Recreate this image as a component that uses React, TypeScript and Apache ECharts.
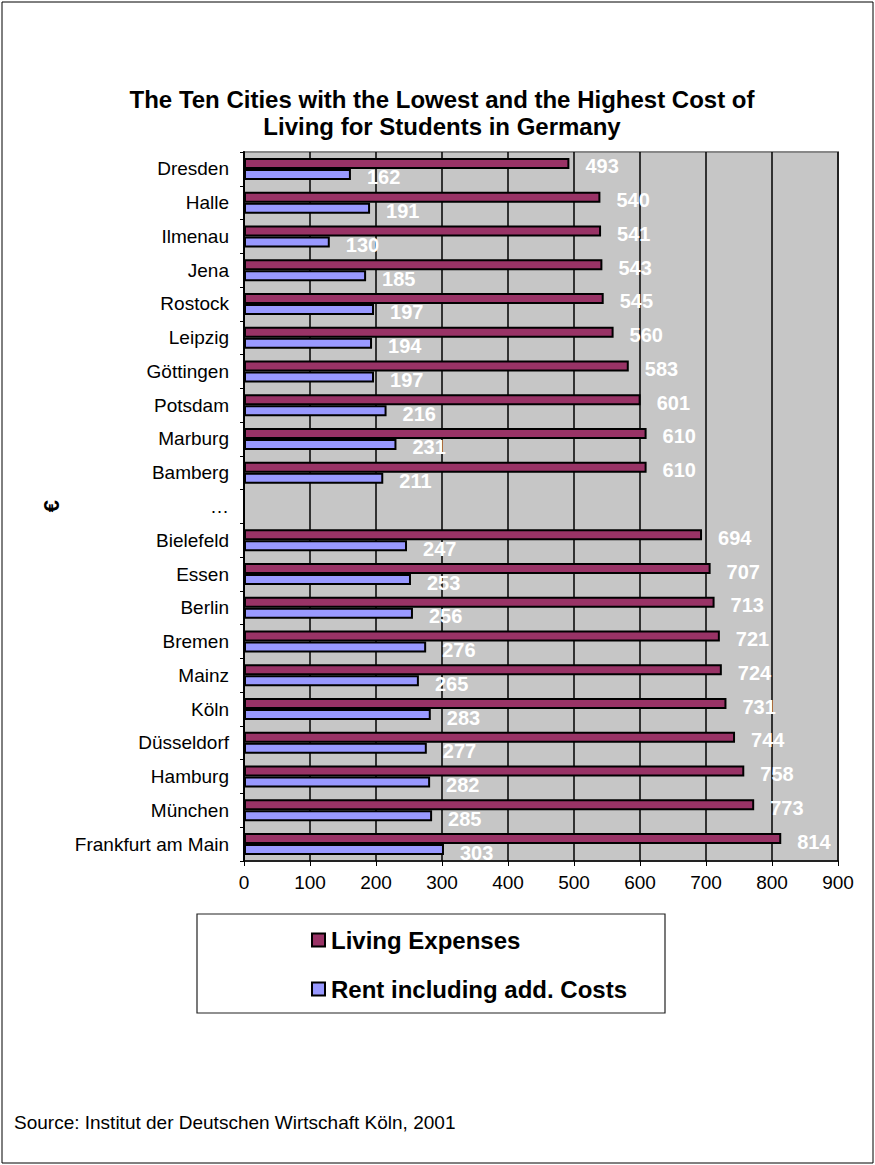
import React, { useEffect, useRef } from "react";
import * as echarts from "echarts";

const cities = [
  "Dresden", "Halle", "Ilmenau", "Jena", "Rostock", "Leipzig", "Göttingen", "Potsdam", "Marburg", "Bamberg",
  "…",
  "Bielefeld", "Essen", "Berlin", "Bremen", "Mainz", "Köln", "Düsseldorf", "Hamburg", "München", "Frankfurt am Main",
];
const livingExpenses = [493, 540, 541, 543, 545, 560, 583, 601, 610, 610, null, 694, 707, 713, 721, 724, 731, 744, 758, 773, 814];
const rentCosts = [162, 191, 130, 185, 197, 194, 197, 216, 231, 211, null, 247, 253, 256, 276, 265, 283, 277, 282, 285, 303];
const xTicks = [0, 100, 200, 300, 400, 500, 600, 700, 800, 900];

const FONT = "'Liberation Sans', Arial, Helvetica, sans-serif";

export default function App() {
  const ref = useRef<HTMLDivElement>(null);
  useEffect(() => {
    if (!ref.current) return;
    const chart = echarts.init(ref.current, undefined, { renderer: "svg" });
    const labelStyle = {
      show: true,
      position: "right" as const,
      distance: 16,
      offset: [0, 3],
      color: "#ffffff",
      fontFamily: FONT,
      fontWeight: "bold" as const,
      fontSize: 20,
    };
    chart.setOption({
      animation: false,
      backgroundColor: "#ffffff",
      grid: {
        left: 244,
        right: 37,
        top: 152,
        bottom: 304,
        show: true,
        backgroundColor: "#c6c6c6",
        borderColor: "#888888",
        borderWidth: 2,
      },
      legend: {
        orient: "vertical",
        left: 306,
        top: 923,
        itemWidth: 13,
        itemHeight: 13,
        itemGap: 25,
        icon: "rect",
        data: ["Living Expenses", "Rent including add. Costs"],
        textStyle: { fontFamily: FONT, fontWeight: "bold", fontSize: 24, lineHeight: 24, color: "#000", padding: [0, 0, 0, 1] },
      },
      xAxis: {
        type: "value",
        min: xTicks[0],
        max: xTicks[xTicks.length - 1],
        interval: 100,
        axisLine: { show: true, lineStyle: { color: "#000", width: 1.5 } },
        axisTick: { show: true, length: 5, lineStyle: { color: "#000" } },
        axisLabel: { fontFamily: FONT, fontSize: 19, color: "#000", margin: 12 },
        splitLine: { show: true, lineStyle: { color: "#000", width: 1.5 } },
      },
      yAxis: {
        type: "category",
        data: cities,
        inverse: true,
        axisLine: { show: true, lineStyle: { color: "#000", width: 2 } },
        axisTick: { show: true, length: 4, lineStyle: { color: "#000" } },
        axisLabel: { fontFamily: FONT, fontSize: 19, color: "#000", margin: 15 },
        splitLine: { show: false },
      },
      series: [
        {
          name: "Living Expenses",
          type: "bar",
          data: livingExpenses,
          barWidth: 11,
          barGap: "0%",
          itemStyle: { color: "#993366", borderColor: "#000", borderWidth: 2 },
          label: labelStyle,
        },
        {
          name: "Rent including add. Costs",
          type: "bar",
          data: rentCosts,
          barWidth: 11,
          barGap: "0%",
          itemStyle: { color: "#9999ff", borderColor: "#000", borderWidth: 2 },
          label: labelStyle,
        },
      ],
      graphic: [
        {
          type: "rect",
          shape: { x: 2, y: 2, width: 871, height: 1161 },
          style: { fill: "none", stroke: "#000", lineWidth: 1 },
          silent: true,
          z: -1,
        },
        {
          type: "rect",
          shape: { x: 197, y: 914, width: 468, height: 99 },
          style: { fill: "none", stroke: "#222", lineWidth: 1.2 },
          silent: true,
        },
        {
          type: "text",
          x: 442,
          y: 113,
          style: {
            text: "The Ten Cities with the Lowest and the Highest Cost of\nLiving for Students in Germany",
            fontFamily: FONT,
            fontWeight: "bold",
            fontSize: 24,
            lineHeight: 27,
            fill: "#000",
            align: "center",
            verticalAlign: "middle",
          },
        },
        {
          type: "text",
          x: 51,
          y: 506,
          rotation: Math.PI / 2,
          style: { text: "€", fontFamily: FONT, fontWeight: "bold", fontSize: 22, fill: "#000", align: "center", verticalAlign: "middle" },
        },
        {
          type: "text",
          x: 14,
          y: 1122,
          style: {
            text: "Source: Institut der Deutschen Wirtschaft Köln, 2001",
            fontFamily: FONT,
            fontSize: 19,
            fill: "#000",
            align: "left",
            verticalAlign: "middle",
          },
        },
      ],
    });
    return () => chart.dispose();
  }, []);
  return <div ref={ref} style={{ position: "absolute", left: 0, top: 0, width: 875, height: 1165 }} />;
}
